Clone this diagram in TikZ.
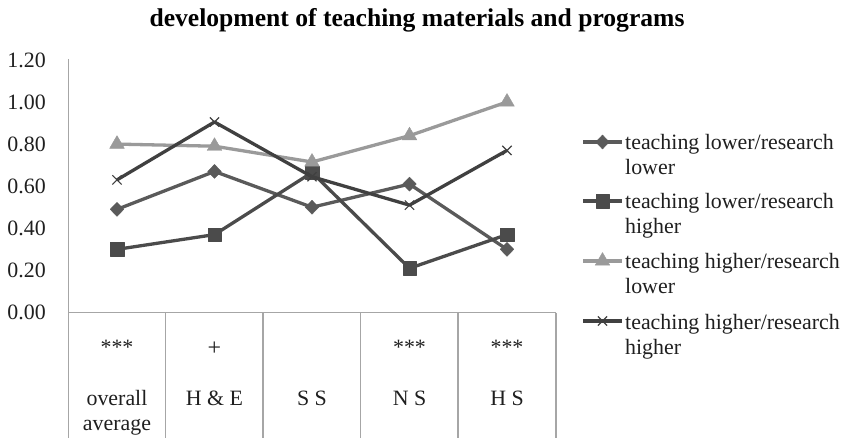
\documentclass[tikz,border=0pt]{standalone}
\usepackage{fontspec}
\setmainfont{Liberation Serif}
\usetikzlibrary{plotmarks}
\definecolor{gridgray}{HTML}{A6A6A6}
\definecolor{serA}{HTML}{5A5A5A}
\definecolor{serB}{HTML}{4B4B4B}
\definecolor{serC}{HTML}{9A9A9A}
\definecolor{serD}{HTML}{404040}
\begin{document}
\begin{tikzpicture}[x=1pt,y=-1pt,
  gridline/.style={draw=gridgray, line width=1.3pt},
  txt/.style={font=\fontsize{21.9}{25}\selectfont, inner sep=0pt, text=black!88},
  tick/.style={txt, anchor=east},
  cell/.style={txt, anchor=base},
  legtext/.style={txt, anchor=base west},
  serline/.style={line width=3.3pt, line join=round},
  serA/.style={serline, color=serA, mark=diamond*, mark size=7pt,
    mark options={xscale=1.3, line width=0.4pt, fill=serA}},
  serB/.style={serline, color=serB, mark=square*, mark size=6.8pt,
    mark options={line width=0.4pt, fill=serB}},
  serC/.style={serline, color=serC, mark=triangle*, mark size=8.5pt,
    mark options={line width=0.4pt, fill=serC}},
  serD/.style={serline, color=serD, mark=x, mark size=6.5pt,
    mark options={line width=1.2pt, color=serD}},
]
\useasboundingbox (0,0) rectangle (843,438);

% title
\node[font=\bfseries\fontsize{25.6}{28}\selectfont, anchor=base, inner sep=0pt] (title)
  at (417,27) {development of teaching materials and programs};

% value axis and category table
\coordinate (axtop) at (68.5,59);
\coordinate (axbot) at (68.5,438);
\draw[gridline] (axtop) -- (axbot);
\coordinate (tl) at (68.5,312.5);
\coordinate (tr) at (556,312.5);
\draw[gridline] (tl) -- (tr);
\foreach \xx/\nm in {165.7/a,263/b,360.5/c,458/d,556/e}{
  \coordinate (vt\nm) at (\xx,312.5);
  \coordinate (vb\nm) at (\xx,438);
  \draw[gridline] (vt\nm) -- (vb\nm);
}

% tick labels
\foreach \v/\lab in {0/0.00,0.2/0.20,0.4/0.40,0.6/0.60,0.8/0.80,1/1.00,1.2/1.20}{
  \node[tick] (tick\lab) at (46,{312.5-210.5*\v}) {\lab};
}

% category table text
\node[cell] (s1) at (117,354) {***};
\node[cell, font=\fontsize{24}{25}\selectfont] (s2) at (214.5,355) {+};
\node[cell] (s4) at (409.5,354) {***};
\node[cell] (s5) at (507,354) {***};
\node[cell] (c1a) at (117,405) {overall};
\node[cell] (c1b) at (117,430) {average};
\node[cell] (c2) at (214.5,405) {H \& E};
\node[cell] (c3) at (312,405) {S S};
\node[cell] (c4) at (409.5,405) {N S};
\node[cell] (c5) at (507,405) {H S};

% data series (value v drawn at y = 312.5 - 210.5 v)
\begin{scope}[shift={(0,312.5)}, y=210.5pt]
  \draw[serA] plot coordinates {(117,0.49) (214.5,0.67) (312,0.50) (409.5,0.61) (507,0.30)};
  \draw[serB] plot coordinates {(117,0.30) (214.5,0.37) (312,0.665) (409.5,0.21) (507,0.37)};
  \draw[serC] plot coordinates {(117,0.80) (214.5,0.79) (312,0.715) (409.5,0.84) (507,1.00)};
  \draw[serD] plot coordinates {(117,0.63) (214.5,0.905) (312,0.645) (409.5,0.51) (507,0.77)};
\end{scope}

% legend
\foreach \st/\yy/\nm in {serA/142/la,serB/201/lb,serC/261/lc,serD/321/ld}{
  \coordinate (\nm0) at (583,\yy);
  \coordinate (\nm1) at (622,\yy);
  \draw[\st] (\nm0) -- (\nm1);
  \draw[\st] plot coordinates {(602.5,\yy)};
}
\node[legtext] (la1) at (625,150) {teaching lower/research};
\node[legtext] (la2) at (625,175) {lower};
\node[legtext] (lb1) at (625,209) {teaching lower/research};
\node[legtext] (lb2) at (625,234) {higher};
\node[legtext] (lc1) at (625,269) {teaching higher/research};
\node[legtext] (lc2) at (625,294) {lower};
\node[legtext] (ld1) at (625,329) {teaching higher/research};
\node[legtext] (ld2) at (625,354) {higher};
\end{tikzpicture}
\end{document}
